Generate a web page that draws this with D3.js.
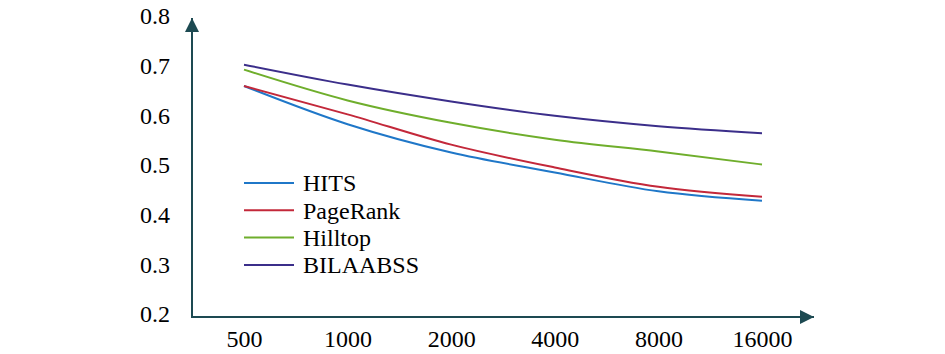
<!DOCTYPE html>
<html>
<head>
<meta charset="utf-8">
<script src="https://cdn.jsdelivr.net/npm/d3@7"></script>
<style>
    body { margin: 0; background: #fff; }
    #chart { width: 945px; height: 354px; }
</style>
</head>
<body>
<div id="chart"></div>
<script>
const categories = ['500', '1000', '2000', '4000', '8000', '16000'];
const yTicks = [0.2, 0.3, 0.4, 0.5, 0.6, 0.7, 0.8];

const hits     = [0.659, 0.582, 0.525, 0.485, 0.447, 0.428];
const pageRank = [0.659, 0.602, 0.541, 0.495, 0.456, 0.436];
const hilltop  = [0.692, 0.630, 0.585, 0.551, 0.527, 0.501];
const bilaabss = [0.702, 0.662, 0.628, 0.599, 0.578, 0.564];

const seriesNames = ['HITS', 'PageRank', 'Hilltop', 'BILAABSS'];
const seriesValues = [hits, pageRank, hilltop, bilaabss];
const seriesColors = ['#1f77c8', '#c3283a', '#6fae2c', '#3b2e8a'];

const width = 945, height = 354;
const axisColor = '#1d4a52';
const font = 'Liberation Serif';

const svg = d3.select('#chart').append('svg')
    .attr('width', width)
    .attr('height', height)
    .attr('font-family', font);

const defs = svg.append('defs');
defs.append('marker')
    .attr('id', 'arrow')
    .attr('viewBox', '0 0 10 10')
    .attr('refX', 10)
    .attr('refY', 5)
    .attr('markerWidth', 16)
    .attr('markerHeight', 14)
    .attr('markerUnits', 'userSpaceOnUse')
    .attr('orient', 'auto')
    .append('path')
    .attr('d', 'M0,0 L10,5 L0,10 Z')
    .attr('fill', axisColor);

const x = d3.scalePoint()
    .domain(categories)
    .range([244, 762]);

const y = d3.scaleLinear()
    .domain([0.2, 0.8])
    .range([314, 16]);

const originX = 192, originY = 317;

// axes lines with arrows
svg.append('line')
    .attr('x1', originX).attr('y1', originY)
    .attr('x2', originX).attr('y2', 18)
    .attr('stroke', axisColor)
    .attr('stroke-width', 2)
    .attr('marker-end', 'url(#arrow)');

svg.append('line')
    .attr('x1', originX - 1).attr('y1', originY)
    .attr('x2', 814).attr('y2', originY)
    .attr('stroke', axisColor)
    .attr('stroke-width', 2)
    .attr('marker-end', 'url(#arrow)');

// tick labels
const yAxis = svg.append('g')
    .attr('transform', `translate(${originX},0)`)
    .call(d3.axisLeft(y).tickValues(yTicks).tickFormat(d3.format('.1f')).tickSize(0).tickPadding(22));

const xAxis = svg.append('g')
    .attr('transform', `translate(0,${originY})`)
    .call(d3.axisBottom(x).tickSize(0).tickPadding(13));

[yAxis, xAxis].forEach(a => {
    a.attr('font-family', font).attr('font-size', 24);
    a.select('.domain').remove();
    a.selectAll('text').attr('fill', '#000').attr('font-family', font);
});

// lines
const line = d3.line()
    .x((d, i) => x(categories[i]))
    .y(d => y(d))
    .curve(d3.curveMonotoneX);

svg.selectAll('.series')
    .data(seriesValues)
    .enter()
    .append('path')
    .attr('class', 'series')
    .attr('d', d => line(d))
    .attr('fill', 'none')
    .attr('stroke', (d, i) => seriesColors[i])
    .attr('stroke-width', 2);

// legend
const legend = svg.append('g')
    .attr('transform', 'translate(244,183)');

const items = legend.selectAll('.item')
    .data(seriesNames)
    .enter()
    .append('g')
    .attr('class', 'item')
    .attr('transform', (d, i) => `translate(0,${i * 27.3})`);

items.append('line')
    .attr('x1', 0).attr('x2', 50)
    .attr('stroke', (d, i) => seriesColors[i])
    .attr('stroke-width', 2);

items.append('text')
    .attr('x', 59)
    .attr('dy', '0.35em')
    .attr('font-family', font)
    .attr('font-size', 24)
    .text(d => d);
</script>
</body>
</html>
